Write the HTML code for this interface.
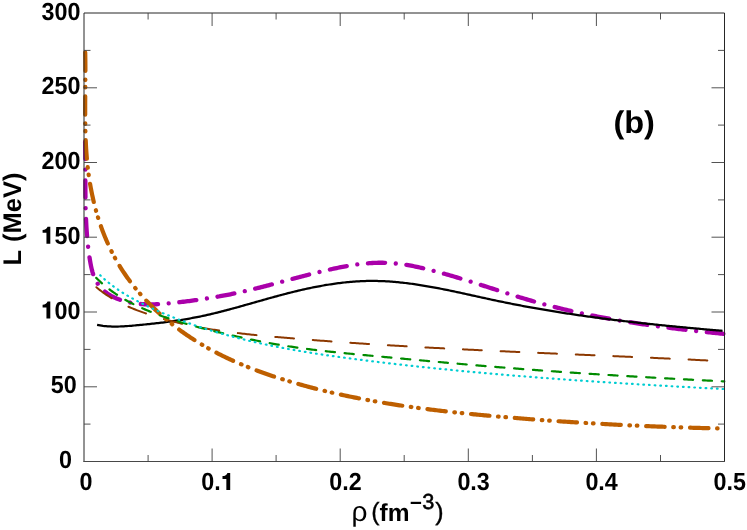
<!DOCTYPE html>
<html><head><meta charset="utf-8"><title>chart</title>
<style>
html,body{margin:0;padding:0;background:#fff;}
body{width:747px;height:530px;overflow:hidden;}
svg{display:block;position:absolute;left:0;top:0;will-change:transform;}
text{font-family:"Liberation Sans",sans-serif;font-weight:bold;fill:#000;text-rendering:geometricPrecision;}
</style></head><body>
<svg width="747" height="530" viewBox="0 0 747 530">
<rect width="747" height="530" fill="#fff"/>
<g>
<path d="M85.04,139.01 L85.08,140.50 L85.11,142.00 L85.14,143.49 L85.17,144.99 L85.20,146.48 L85.22,147.98 L85.24,149.48 L85.26,150.97 L85.27,152.47 L85.29,153.97 L85.30,155.47 L85.31,156.97 L85.32,158.46 L85.33,159.96 L85.33,161.46 L85.34,162.96 L85.34,164.46 L85.34,165.96 L85.35,167.46 L85.35,168.96 L85.35,170.46 L85.35,171.96 L85.35,173.46 L85.35,174.96 L85.35,176.46 L85.35,177.96 L85.36,179.46 L85.36,180.96 L85.36,182.46 L85.36,183.96 L85.37,185.46 L85.37,186.96 L85.38,188.46 L85.39,189.96 L85.40,191.46 L85.41,192.96 L85.42,194.46 L85.44,195.96 L85.46,197.46 L85.47,198.96 L85.50,200.46 L85.52,201.96 L85.55,203.45 L85.58,204.95 L85.61,206.45 L85.65,207.95 L85.68,209.45 L85.73,210.94 L85.77,212.44 L85.82,213.94 L85.87,215.43 L85.93,216.93 L85.99,218.42 L86.06,219.92 L86.13,221.41 L86.20,222.91 L86.28,224.40 L86.36,225.89 L86.45,227.39 L86.55,228.88 L86.64,230.37 L86.75,231.86 L86.86,233.35 L86.97,234.84 L87.09,236.33 L87.22,237.82 L87.35,239.31 L87.49,240.80 L87.64,242.29 L87.79,243.77 L87.95,245.26 L88.11,246.74 L88.28,248.23 L88.46,249.71 L88.65,251.20 L88.85,252.68 L89.05,254.17 L89.26,255.66 L89.48,257.15 L89.71,258.65 L89.95,260.14 L90.21,261.65 L90.47,263.15 L90.75,264.65 L91.05,266.15 L91.37,267.64 L91.72,269.13 L92.09,270.60 L92.49,272.06 L92.93,273.50 L93.40,274.93 L93.91,276.33 L94.47,277.71 L95.06,279.06 L95.71,280.38 L96.40,281.67 L97.15,282.93 L97.95,284.15 L98.81,285.34 L99.72,286.48 L100.68,287.59 L101.69,288.65 L102.75,289.68 L103.85,290.67 L104.99,291.62 L106.16,292.54 L107.37,293.41 L108.61,294.25 L109.88,295.04 L111.18,295.80 L112.50,296.52 L113.84,297.20 L115.20,297.84 L116.58,298.45 L117.98,299.02 L119.39,299.55 L120.81,300.05 L122.24,300.52 L123.69,300.96 L125.14,301.37 L126.61,301.74 L128.07,302.09 L129.54,302.41 L131.01,302.70 L132.49,302.96 L133.97,303.20 L135.45,303.42 L136.93,303.61 L138.41,303.78 L139.89,303.92 L141.38,304.04 L142.87,304.15 L144.36,304.23 L145.85,304.29 L147.34,304.33 L148.84,304.36 L150.33,304.37 L151.82,304.36 L153.32,304.34 L154.82,304.30 L156.31,304.24 L157.81,304.18 L159.31,304.10 L160.81,304.01 L162.31,303.91 L163.80,303.80 L165.30,303.68 L166.80,303.55 L168.30,303.41 L169.80,303.26 L171.29,303.11 L172.79,302.95 L174.28,302.79 L175.78,302.63 L177.27,302.46 L178.76,302.29 L180.26,302.11 L181.75,301.93 L183.24,301.75 L184.72,301.57 L186.21,301.39 L187.70,301.20 L189.18,301.01 L190.67,300.81 L192.15,300.62 L193.64,300.42 L195.12,300.21 L196.60,300.01 L198.08,299.80 L199.56,299.58 L201.04,299.37 L202.51,299.15 L203.99,298.93 L205.47,298.70 L206.94,298.47 L208.42,298.24 L209.89,298.00 L211.37,297.76 L212.84,297.51 L214.31,297.27 L215.78,297.01 L217.26,296.76 L218.73,296.50 L220.20,296.24 L221.67,295.97 L223.13,295.69 L224.60,295.42 L226.07,295.14 L227.54,294.85 L229.01,294.56 L230.47,294.27 L231.94,293.97 L233.41,293.67 L234.87,293.36 L236.34,293.05 L237.80,292.73 L239.27,292.41 L240.73,292.09 L242.19,291.76 L243.66,291.43 L245.12,291.09 L246.58,290.75 L248.05,290.41 L249.51,290.06 L250.97,289.71 L252.43,289.36 L253.89,289.00 L255.35,288.64 L256.81,288.28 L258.27,287.91 L259.72,287.55 L261.18,287.18 L262.64,286.80 L264.09,286.43 L265.55,286.06 L267.00,285.68 L268.46,285.30 L269.91,284.92 L271.36,284.54 L272.81,284.16 L274.26,283.77 L275.71,283.39 L277.16,283.00 L278.61,282.62 L280.06,282.23 L281.50,281.84 L282.95,281.46 L284.39,281.07 L285.84,280.68 L287.28,280.30 L288.73,279.91 L290.17,279.52 L291.61,279.14 L293.05,278.75 L294.49,278.37 L295.93,277.98 L297.38,277.60 L298.82,277.22 L300.26,276.84 L301.70,276.46 L303.14,276.08 L304.59,275.71 L306.03,275.33 L307.47,274.96 L308.92,274.59 L310.37,274.22 L311.81,273.85 L313.26,273.49 L314.71,273.13 L316.16,272.77 L317.61,272.41 L319.06,272.05 L320.52,271.70 L321.97,271.35 L323.43,271.01 L324.89,270.67 L326.35,270.33 L327.82,269.99 L329.28,269.66 L330.75,269.33 L332.22,269.00 L333.69,268.68 L335.16,268.37 L336.64,268.06 L338.12,267.75 L339.59,267.45 L341.07,267.16 L342.55,266.87 L344.04,266.59 L345.52,266.32 L347.01,266.05 L348.49,265.79 L349.98,265.54 L351.47,265.30 L352.96,265.07 L354.45,264.85 L355.94,264.63 L357.43,264.43 L358.92,264.23 L360.41,264.05 L361.90,263.87 L363.40,263.71 L364.89,263.56 L366.38,263.42 L367.88,263.29 L369.37,263.18 L370.87,263.08 L372.36,262.99 L373.85,262.91 L375.35,262.85 L376.84,262.80 L378.33,262.76 L379.82,262.74 L381.32,262.74 L382.81,262.75 L384.30,262.78 L385.79,262.82 L387.27,262.88 L388.76,262.95 L390.25,263.04 L391.74,263.14 L393.22,263.26 L394.71,263.40 L396.19,263.54 L397.67,263.70 L399.15,263.88 L400.63,264.07 L402.11,264.26 L403.59,264.48 L405.07,264.70 L406.54,264.93 L408.02,265.18 L409.49,265.43 L410.97,265.70 L412.44,265.98 L413.91,266.26 L415.38,266.56 L416.85,266.86 L418.32,267.17 L419.78,267.49 L421.25,267.82 L422.71,268.15 L424.17,268.49 L425.63,268.84 L427.09,269.19 L428.55,269.55 L430.01,269.92 L431.47,270.29 L432.92,270.66 L434.38,271.04 L435.83,271.42 L437.28,271.81 L438.73,272.20 L440.18,272.59 L441.62,272.99 L443.07,273.39 L444.51,273.80 L445.96,274.20 L447.40,274.61 L448.84,275.03 L450.28,275.45 L451.72,275.87 L453.16,276.29 L454.60,276.72 L456.04,277.14 L457.47,277.58 L458.91,278.01 L460.34,278.45 L461.77,278.88 L463.21,279.32 L464.64,279.76 L466.07,280.21 L467.50,280.65 L468.93,281.10 L470.36,281.55 L471.79,282.00 L473.22,282.45 L474.65,282.91 L476.08,283.36 L477.51,283.81 L478.93,284.27 L480.36,284.73 L481.79,285.18 L483.21,285.64 L484.64,286.10 L486.07,286.56 L487.49,287.02 L488.92,287.48 L490.34,287.94 L491.77,288.40 L493.19,288.86 L494.62,289.32 L496.05,289.78 L497.47,290.24 L498.90,290.69 L500.32,291.15 L501.75,291.61 L503.18,292.06 L504.60,292.52 L506.03,292.97 L507.46,293.42 L508.88,293.88 L510.31,294.33 L511.74,294.77 L513.17,295.22 L514.60,295.67 L516.03,296.11 L517.46,296.55 L518.89,296.99 L520.32,297.43 L521.75,297.86 L523.18,298.30 L524.62,298.73 L526.05,299.16 L527.48,299.58 L528.92,300.00 L530.36,300.42 L531.79,300.84 L533.23,301.26 L534.67,301.67 L536.11,302.07 L537.55,302.48 L538.99,302.88 L540.44,303.28 L541.88,303.67 L543.32,304.06 L544.77,304.45 L546.22,304.84 L547.66,305.22 L549.11,305.60 L550.56,305.97 L552.01,306.35 L553.46,306.72 L554.91,307.08 L556.36,307.45 L557.82,307.81 L559.27,308.17 L560.73,308.52 L562.18,308.87 L563.64,309.22 L565.09,309.57 L566.55,309.91 L568.01,310.25 L569.47,310.59 L570.93,310.92 L572.39,311.26 L573.85,311.59 L575.31,311.91 L576.78,312.24 L578.24,312.56 L579.70,312.87 L581.17,313.19 L582.63,313.50 L584.10,313.81 L585.57,314.12 L587.03,314.43 L588.50,314.73 L589.97,315.03 L591.44,315.33 L592.91,315.62 L594.38,315.91 L595.85,316.20 L597.32,316.49 L598.79,316.77 L600.27,317.06 L601.74,317.34 L603.21,317.61 L604.69,317.89 L606.16,318.16 L607.64,318.43 L609.11,318.70 L610.59,318.97 L612.06,319.23 L613.54,319.49 L615.02,319.75 L616.50,320.01 L617.97,320.26 L619.45,320.51 L620.93,320.76 L622.41,321.01 L623.89,321.26 L625.37,321.50 L626.85,321.74 L628.33,321.98 L629.81,322.22 L631.30,322.45 L632.78,322.69 L634.26,322.92 L635.74,323.15 L637.22,323.37 L638.71,323.60 L640.19,323.82 L641.67,324.04 L643.16,324.26 L644.64,324.48 L646.13,324.70 L647.61,324.91 L649.10,325.12 L650.58,325.33 L652.07,325.54 L653.55,325.75 L655.04,325.95 L656.52,326.15 L658.01,326.36 L659.50,326.56 L660.98,326.75 L662.47,326.95 L663.95,327.14 L665.44,327.34 L666.93,327.53 L668.41,327.72 L669.90,327.91 L671.39,328.09 L672.88,328.28 L674.36,328.46 L675.85,328.64 L677.34,328.83 L678.82,329.00 L680.31,329.18 L681.80,329.36 L683.29,329.53 L684.77,329.71 L686.26,329.88 L687.75,330.05 L689.23,330.22 L690.72,330.39 L692.21,330.55 L693.70,330.72 L695.18,330.88 L696.67,331.05 L698.16,331.21 L699.64,331.37 L701.13,331.53 L702.62,331.69 L704.10,331.84 L705.59,332.00 L707.07,332.15 L708.56,332.31 L710.05,332.46 L711.53,332.61 L713.02,332.76 L714.50,332.91 L715.99,333.06 L717.47,333.21 L718.95,333.35 L720.44,333.50 L721.92,333.65 L723.41,333.79" fill="none" stroke="#aa00aa" stroke-width="4.3" stroke-linecap="round" stroke-linejoin="round" stroke-dasharray="17.2 10.68 0.01 10.68" stroke-dashoffset="-2.8"/>
<path d="M97.10,324.86 L98.59,325.15 L100.08,325.41 L101.57,325.64 L103.06,325.85 L104.55,326.02 L106.04,326.17 L107.53,326.29 L109.01,326.39 L110.50,326.47 L111.99,326.52 L113.47,326.55 L114.96,326.57 L116.44,326.56 L117.92,326.54 L119.41,326.50 L120.89,326.45 L122.38,326.38 L123.86,326.30 L125.35,326.21 L126.83,326.11 L128.32,326.00 L129.81,325.89 L131.30,325.76 L132.78,325.63 L134.27,325.50 L135.76,325.36 L137.25,325.22 L138.75,325.08 L140.24,324.94 L141.73,324.79 L143.23,324.65 L144.73,324.50 L146.22,324.35 L147.72,324.19 L149.22,324.04 L150.71,323.88 L152.21,323.72 L153.71,323.55 L155.21,323.39 L156.71,323.22 L158.21,323.04 L159.71,322.87 L161.21,322.69 L162.70,322.51 L164.20,322.32 L165.70,322.13 L167.20,321.93 L168.69,321.74 L170.19,321.54 L171.69,321.33 L173.18,321.12 L174.68,320.91 L176.17,320.69 L177.66,320.47 L179.15,320.24 L180.64,320.01 L182.13,319.77 L183.62,319.53 L185.11,319.28 L186.59,319.03 L188.07,318.78 L189.56,318.52 L191.04,318.25 L192.52,317.98 L193.99,317.70 L195.47,317.42 L196.94,317.13 L198.41,316.83 L199.88,316.53 L201.35,316.23 L202.81,315.92 L204.28,315.60 L205.74,315.28 L207.20,314.95 L208.66,314.62 L210.11,314.28 L211.57,313.94 L213.02,313.60 L214.47,313.25 L215.92,312.90 L217.37,312.54 L218.82,312.18 L220.27,311.81 L221.72,311.45 L223.16,311.07 L224.61,310.70 L226.05,310.32 L227.49,309.94 L228.93,309.56 L230.37,309.17 L231.81,308.78 L233.25,308.39 L234.69,308.00 L236.13,307.61 L237.57,307.21 L239.00,306.81 L240.44,306.41 L241.88,306.01 L243.31,305.60 L244.75,305.20 L246.19,304.79 L247.62,304.39 L249.06,303.98 L250.49,303.57 L251.93,303.16 L253.36,302.76 L254.80,302.35 L256.24,301.94 L257.67,301.53 L259.11,301.12 L260.55,300.71 L261.99,300.30 L263.42,299.90 L264.86,299.49 L266.30,299.08 L267.74,298.68 L269.18,298.28 L270.63,297.88 L272.07,297.48 L273.51,297.08 L274.96,296.68 L276.40,296.29 L277.85,295.89 L279.30,295.50 L280.74,295.11 L282.19,294.73 L283.65,294.35 L285.10,293.97 L286.55,293.59 L288.01,293.21 L289.47,292.84 L290.92,292.48 L292.38,292.11 L293.85,291.75 L295.31,291.39 L296.78,291.04 L298.24,290.69 L299.71,290.35 L301.18,290.01 L302.65,289.67 L304.12,289.34 L305.60,289.01 L307.07,288.69 L308.55,288.37 L310.03,288.06 L311.51,287.75 L312.99,287.45 L314.47,287.16 L315.95,286.86 L317.43,286.58 L318.92,286.30 L320.40,286.02 L321.89,285.75 L323.38,285.49 L324.86,285.23 L326.35,284.98 L327.84,284.74 L329.33,284.50 L330.82,284.27 L332.31,284.05 L333.80,283.83 L335.30,283.62 L336.79,283.41 L338.28,283.22 L339.78,283.03 L341.27,282.85 L342.76,282.67 L344.26,282.50 L345.75,282.34 L347.25,282.19 L348.74,282.05 L350.23,281.91 L351.73,281.79 L353.22,281.67 L354.72,281.56 L356.21,281.45 L357.71,281.36 L359.20,281.28 L360.69,281.20 L362.19,281.13 L363.68,281.07 L365.17,281.03 L366.67,280.99 L368.16,280.96 L369.65,280.94 L371.14,280.93 L372.63,280.92 L374.12,280.93 L375.61,280.95 L377.10,280.97 L378.59,281.01 L380.07,281.05 L381.56,281.11 L383.05,281.17 L384.54,281.24 L386.02,281.31 L387.51,281.40 L388.99,281.49 L390.48,281.59 L391.96,281.70 L393.45,281.82 L394.93,281.94 L396.41,282.07 L397.90,282.21 L399.38,282.36 L400.86,282.51 L402.34,282.67 L403.82,282.83 L405.30,283.00 L406.78,283.18 L408.26,283.37 L409.74,283.56 L411.22,283.75 L412.70,283.96 L414.18,284.16 L415.66,284.38 L417.14,284.60 L418.62,284.82 L420.09,285.05 L421.57,285.28 L423.05,285.52 L424.53,285.77 L426.00,286.02 L427.48,286.27 L428.96,286.53 L430.43,286.79 L431.91,287.05 L433.38,287.32 L434.86,287.60 L436.33,287.87 L437.81,288.15 L439.28,288.44 L440.76,288.73 L442.23,289.02 L443.71,289.31 L445.18,289.61 L446.65,289.90 L448.13,290.21 L449.60,290.51 L451.08,290.82 L452.55,291.13 L454.02,291.44 L455.49,291.75 L456.97,292.06 L458.44,292.38 L459.91,292.70 L461.39,293.02 L462.86,293.34 L464.33,293.66 L465.80,293.98 L467.28,294.30 L468.75,294.63 L470.22,294.95 L471.69,295.28 L473.17,295.60 L474.64,295.93 L476.11,296.25 L477.58,296.58 L479.06,296.90 L480.53,297.23 L482.00,297.55 L483.47,297.88 L484.94,298.20 L486.42,298.52 L487.89,298.84 L489.36,299.16 L490.83,299.48 L492.31,299.80 L493.78,300.12 L495.25,300.43 L496.73,300.74 L498.20,301.05 L499.67,301.36 L501.14,301.67 L502.62,301.97 L504.09,302.27 L505.56,302.57 L507.04,302.87 L508.51,303.17 L509.99,303.46 L511.46,303.75 L512.93,304.04 L514.41,304.33 L515.88,304.62 L517.36,304.90 L518.83,305.19 L520.31,305.47 L521.78,305.75 L523.26,306.02 L524.73,306.30 L526.21,306.57 L527.68,306.84 L529.16,307.11 L530.63,307.38 L532.11,307.65 L533.58,307.91 L535.06,308.17 L536.54,308.43 L538.01,308.69 L539.49,308.95 L540.96,309.20 L542.44,309.46 L543.92,309.71 L545.39,309.96 L546.87,310.21 L548.35,310.46 L549.83,310.70 L551.30,310.94 L552.78,311.19 L554.26,311.43 L555.74,311.67 L557.21,311.90 L558.69,312.14 L560.17,312.37 L561.65,312.60 L563.13,312.83 L564.61,313.06 L566.09,313.29 L567.57,313.52 L569.04,313.74 L570.52,313.96 L572.00,314.19 L573.48,314.41 L574.96,314.62 L576.44,314.84 L577.92,315.06 L579.41,315.27 L580.89,315.48 L582.37,315.69 L583.85,315.90 L585.33,316.11 L586.81,316.32 L588.29,316.53 L589.77,316.73 L591.26,316.93 L592.74,317.13 L594.22,317.33 L595.70,317.53 L597.19,317.73 L598.67,317.93 L600.15,318.12 L601.64,318.32 L603.12,318.51 L604.60,318.70 L606.09,318.89 L607.57,319.08 L609.05,319.27 L610.54,319.45 L612.02,319.64 L613.51,319.82 L614.99,320.01 L616.48,320.19 L617.97,320.37 L619.45,320.55 L620.94,320.73 L622.42,320.90 L623.91,321.08 L625.40,321.25 L626.88,321.43 L628.37,321.60 L629.86,321.77 L631.34,321.94 L632.83,322.11 L634.32,322.28 L635.81,322.45 L637.30,322.62 L638.79,322.78 L640.27,322.95 L641.76,323.11 L643.25,323.27 L644.74,323.43 L646.23,323.60 L647.72,323.76 L649.21,323.91 L650.70,324.07 L652.19,324.23 L653.68,324.39 L655.18,324.54 L656.67,324.70 L658.16,324.85 L659.65,325.00 L661.14,325.16 L662.64,325.31 L664.13,325.46 L665.62,325.61 L667.11,325.76 L668.61,325.91 L670.10,326.05 L671.60,326.20 L673.09,326.35 L674.58,326.49 L676.08,326.64 L677.57,326.78 L679.07,326.92 L680.57,327.07 L682.06,327.21 L683.56,327.35 L685.05,327.49 L686.55,327.63 L688.05,327.77 L689.54,327.91 L691.04,328.05 L692.54,328.19 L694.04,328.32 L695.54,328.46 L697.03,328.60 L698.53,328.73 L700.03,328.87 L701.53,329.00 L703.03,329.14 L704.53,329.27 L706.03,329.40 L707.53,329.53 L709.03,329.67 L710.53,329.80 L712.04,329.93 L713.54,330.06 L715.04,330.19 L716.54,330.32 L718.05,330.45 L719.55,330.58 L721.05,330.71 L722.56,330.84" fill="none" stroke="#000000" stroke-width="2.25" stroke-linecap="butt" stroke-linejoin="round"/>
<path d="M96.43,287.24 L97.59,288.22 L98.76,289.19 L99.94,290.13 L101.14,291.05 L102.34,291.96 L103.56,292.85 L104.78,293.71 L106.02,294.57 L107.27,295.40 L108.52,296.22 L109.79,297.02 L111.06,297.80 L112.35,298.57 L113.64,299.32 L114.94,300.06 L116.24,300.78 L117.56,301.49 L118.88,302.19 L120.21,302.87 L121.55,303.54 L122.89,304.19 L124.24,304.83 L125.60,305.46 L126.96,306.08 L128.33,306.69 L129.70,307.28 L131.08,307.86 L132.46,308.44 L133.84,309.00 L135.23,309.55 L136.63,310.10 L138.03,310.63 L139.43,311.15 L140.83,311.67 L142.24,312.18 L143.65,312.68 L145.06,313.17 L146.47,313.66 L147.89,314.14 L149.30,314.61 L150.72,315.08 L152.14,315.54 L153.57,315.99 L154.99,316.43 L156.42,316.87 L157.84,317.31 L159.27,317.73 L160.70,318.15 L162.14,318.57 L163.57,318.97 L165.01,319.38 L166.44,319.77 L167.88,320.16 L169.32,320.54 L170.76,320.92 L172.21,321.29 L173.65,321.66 L175.10,322.02 L176.55,322.37 L178.00,322.72 L179.45,323.07 L180.90,323.41 L182.35,323.74 L183.81,324.07 L185.26,324.39 L186.72,324.71 L188.18,325.02 L189.64,325.33 L191.10,325.63 L192.56,325.93 L194.03,326.22 L195.49,326.51 L196.96,326.79 L198.42,327.07 L199.89,327.35 L201.36,327.62 L202.83,327.88 L204.30,328.14 L205.77,328.40 L207.25,328.65 L208.72,328.90 L210.20,329.15 L211.67,329.39 L213.15,329.63 L214.63,329.86 L216.11,330.09 L217.59,330.31 L219.07,330.54 L220.55,330.75 L222.03,330.97 L223.51,331.18 L225.00,331.39 L226.48,331.59 L227.97,331.80 L229.45,331.99 L230.94,332.19 L232.43,332.38 L233.91,332.57 L235.40,332.76 L236.89,332.94 L238.38,333.12 L239.87,333.30 L241.36,333.48 L242.85,333.65 L244.34,333.82 L245.84,333.99 L247.33,334.15 L248.82,334.32 L250.32,334.48 L251.81,334.64 L253.30,334.79 L254.80,334.95 L256.29,335.10 L257.79,335.25 L259.29,335.40 L260.78,335.55 L262.28,335.70 L263.77,335.84 L265.27,335.98 L266.77,336.12 L268.27,336.26 L269.76,336.40 L271.26,336.54 L272.76,336.68 L274.26,336.81 L275.75,336.94 L277.25,337.08 L278.75,337.21 L280.25,337.34 L281.74,337.47 L283.24,337.60 L284.74,337.73 L286.24,337.86 L287.73,337.98 L289.23,338.11 L290.73,338.24 L292.23,338.36 L293.72,338.49 L295.22,338.61 L296.72,338.73 L298.22,338.86 L299.71,338.98 L301.21,339.10 L302.71,339.22 L304.20,339.34 L305.70,339.46 L307.20,339.58 L308.70,339.70 L310.19,339.82 L311.69,339.94 L313.19,340.05 L314.68,340.17 L316.18,340.29 L317.68,340.40 L319.17,340.52 L320.67,340.63 L322.17,340.74 L323.66,340.86 L325.16,340.97 L326.66,341.08 L328.15,341.19 L329.65,341.30 L331.14,341.41 L332.64,341.52 L334.14,341.63 L335.63,341.74 L337.13,341.85 L338.62,341.96 L340.12,342.06 L341.62,342.17 L343.11,342.28 L344.61,342.38 L346.10,342.49 L347.60,342.59 L349.10,342.69 L350.59,342.80 L352.09,342.90 L353.58,343.00 L355.08,343.10 L356.57,343.21 L358.07,343.31 L359.57,343.41 L361.06,343.51 L362.56,343.61 L364.05,343.71 L365.55,343.80 L367.04,343.90 L368.54,344.00 L370.03,344.10 L371.53,344.19 L373.02,344.29 L374.52,344.39 L376.02,344.48 L377.51,344.58 L379.01,344.67 L380.50,344.76 L382.00,344.86 L383.49,344.95 L384.99,345.04 L386.48,345.14 L387.98,345.23 L389.47,345.32 L390.97,345.41 L392.46,345.50 L393.96,345.59 L395.45,345.68 L396.95,345.77 L398.44,345.86 L399.94,345.95 L401.43,346.04 L402.93,346.12 L404.42,346.21 L405.92,346.30 L407.41,346.38 L408.91,346.47 L410.40,346.56 L411.89,346.64 L413.39,346.73 L414.88,346.81 L416.38,346.90 L417.87,346.98 L419.37,347.06 L420.86,347.15 L422.36,347.23 L423.85,347.31 L425.35,347.40 L426.84,347.48 L428.34,347.56 L429.83,347.64 L431.33,347.72 L432.82,347.80 L434.31,347.88 L435.81,347.96 L437.30,348.04 L438.80,348.12 L440.29,348.20 L441.79,348.28 L443.28,348.36 L444.78,348.44 L446.27,348.51 L447.77,348.59 L449.26,348.67 L450.76,348.75 L452.25,348.82 L453.74,348.90 L455.24,348.97 L456.73,349.05 L458.23,349.13 L459.72,349.20 L461.22,349.28 L462.71,349.35 L464.21,349.43 L465.70,349.50 L467.19,349.57 L468.69,349.65 L470.18,349.72 L471.68,349.80 L473.17,349.87 L474.67,349.94 L476.16,350.01 L477.66,350.09 L479.15,350.16 L480.65,350.23 L482.14,350.30 L483.63,350.37 L485.13,350.44 L486.62,350.52 L488.12,350.59 L489.61,350.66 L491.11,350.73 L492.60,350.80 L494.10,350.87 L495.59,350.94 L497.09,351.01 L498.58,351.08 L500.08,351.15 L501.57,351.22 L503.07,351.28 L504.56,351.35 L506.05,351.42 L507.55,351.49 L509.04,351.56 L510.54,351.63 L512.03,351.70 L513.53,351.76 L515.02,351.83 L516.52,351.90 L518.01,351.97 L519.51,352.03 L521.00,352.10 L522.50,352.17 L523.99,352.23 L525.49,352.30 L526.98,352.37 L528.48,352.43 L529.97,352.50 L531.47,352.57 L532.96,352.63 L534.46,352.70 L535.95,352.77 L537.45,352.83 L538.94,352.90 L540.44,352.96 L541.93,353.03 L543.43,353.09 L544.92,353.16 L546.42,353.22 L547.91,353.29 L549.41,353.36 L550.91,353.42 L552.40,353.49 L553.90,353.55 L555.39,353.62 L556.89,353.68 L558.38,353.75 L559.88,353.81 L561.37,353.87 L562.87,353.94 L564.36,354.00 L565.86,354.07 L567.36,354.13 L568.85,354.20 L570.35,354.26 L571.84,354.33 L573.34,354.39 L574.83,354.46 L576.33,354.52 L577.83,354.58 L579.32,354.65 L580.82,354.71 L582.31,354.78 L583.81,354.84 L585.31,354.91 L586.80,354.97 L588.30,355.04 L589.80,355.10 L591.29,355.16 L592.79,355.23 L594.28,355.29 L595.78,355.36 L597.28,355.42 L598.77,355.49 L600.27,355.55 L601.77,355.62 L603.26,355.68 L604.76,355.75 L606.26,355.81 L607.75,355.88 L609.25,355.94 L610.75,356.01 L612.24,356.07 L613.74,356.14 L615.24,356.20 L616.73,356.27 L618.23,356.33 L619.73,356.40 L621.23,356.46 L622.72,356.53 L624.22,356.59 L625.72,356.66 L627.22,356.73 L628.71,356.79 L630.21,356.86 L631.71,356.92 L633.21,356.99 L634.70,357.06 L636.20,357.12 L637.70,357.19 L639.20,357.26 L640.69,357.32 L642.19,357.39 L643.69,357.46 L645.19,357.53 L646.69,357.59 L648.18,357.66 L649.68,357.73 L651.18,357.80 L652.68,357.86 L654.18,357.93 L655.68,358.00 L657.17,358.07 L658.67,358.14 L660.17,358.21 L661.67,358.28 L663.17,358.34 L664.67,358.41 L666.17,358.48 L667.66,358.55 L669.16,358.62 L670.66,358.69 L672.16,358.76 L673.66,358.83 L675.16,358.90 L676.66,358.97 L678.16,359.05 L679.66,359.12 L681.16,359.19 L682.66,359.26 L684.16,359.33 L685.66,359.40 L687.16,359.48 L688.66,359.55 L690.16,359.62 L691.66,359.70 L693.16,359.77 L694.66,359.84 L696.16,359.92 L697.66,359.99 L699.16,360.06 L700.66,360.14 L702.16,360.21 L703.66,360.29 L705.16,360.36 L706.66,360.44 L708.16,360.52" fill="none" stroke="#8c3800" stroke-width="2.0" stroke-linecap="round" stroke-linejoin="round" stroke-dasharray="18.8 18.83" stroke-dashoffset="0"/>
<path d="M85.16,50.38 L85.19,51.83 L85.23,53.29 L85.26,54.75 L85.28,56.21 L85.31,57.67 L85.33,59.13 L85.35,60.59 L85.36,62.06 L85.37,63.53 L85.38,65.00 L85.39,66.47 L85.39,67.95 L85.39,69.42 L85.39,70.90 L85.39,72.38 L85.39,73.86 L85.39,75.34 L85.38,76.82 L85.37,78.30 L85.36,79.79 L85.35,81.28 L85.34,82.76 L85.33,84.25 L85.32,85.74 L85.31,87.23 L85.30,88.73 L85.28,90.22 L85.27,91.71 L85.26,93.21 L85.25,94.71 L85.23,96.20 L85.22,97.70 L85.21,99.20 L85.20,100.70 L85.19,102.20 L85.18,103.70 L85.18,105.20 L85.17,106.71 L85.17,108.21 L85.17,109.71 L85.17,111.22 L85.17,112.72 L85.17,114.23 L85.18,115.73 L85.19,117.24 L85.20,118.75 L85.21,120.25 L85.23,121.76 L85.25,123.27 L85.27,124.78 L85.29,126.28 L85.32,127.79 L85.35,129.30 L85.39,130.81 L85.43,132.31 L85.47,133.82 L85.52,135.33 L85.57,136.84 L85.63,138.34 L85.69,139.85 L85.75,141.36 L85.82,142.87 L85.90,144.37 L85.98,145.88 L86.06,147.38 L86.15,148.89 L86.25,150.39 L86.35,151.90 L86.46,153.40 L86.57,154.90 L86.69,156.41 L86.81,157.91 L86.94,159.41 L87.08,160.91 L87.23,162.41 L87.38,163.91 L87.54,165.41 L87.70,166.90 L87.87,168.40 L88.05,169.90 L88.24,171.39 L88.43,172.88 L88.63,174.37 L88.84,175.87 L89.05,177.35 L89.28,178.84 L89.51,180.33 L89.75,181.81 L89.99,183.30 L90.25,184.78 L90.51,186.26 L90.77,187.74 L91.05,189.21 L91.34,190.69 L91.63,192.16 L91.93,193.63 L92.23,195.10 L92.55,196.56 L92.87,198.03 L93.21,199.49 L93.54,200.95 L93.89,202.40 L94.25,203.86 L94.61,205.31 L94.98,206.76 L95.37,208.20 L95.75,209.65 L96.15,211.09 L96.56,212.52 L96.97,213.96 L97.39,215.39 L97.82,216.82 L98.26,218.24 L98.71,219.66 L99.17,221.08 L99.63,222.50 L100.11,223.91 L100.59,225.31 L101.08,226.72 L101.58,228.12 L102.09,229.51 L102.61,230.91 L103.14,232.30 L103.68,233.68 L104.22,235.06 L104.78,236.44 L105.34,237.81 L105.91,239.18 L106.49,240.54 L107.09,241.90 L107.69,243.26 L108.30,244.61 L108.92,245.95 L109.54,247.29 L110.18,248.63 L110.83,249.96 L111.49,251.29 L112.15,252.61 L112.83,253.93 L113.52,255.24 L114.21,256.54 L114.92,257.85 L115.63,259.14 L116.36,260.43 L117.09,261.72 L117.84,263.00 L118.59,264.27 L119.36,265.54 L120.13,266.80 L120.92,268.06 L121.71,269.31 L122.52,270.56 L123.33,271.80 L124.15,273.03 L124.99,274.26 L125.83,275.49 L126.68,276.70 L127.54,277.91 L128.41,279.12 L129.29,280.32 L130.18,281.51 L131.08,282.70 L131.98,283.88 L132.90,285.06 L133.82,286.23 L134.75,287.39 L135.69,288.55 L136.64,289.70 L137.60,290.85 L138.56,291.99 L139.53,293.12 L140.51,294.25 L141.50,295.37 L142.50,296.48 L143.51,297.59 L144.52,298.69 L145.54,299.79 L146.57,300.88 L147.60,301.96 L148.64,303.04 L149.69,304.11 L150.75,305.18 L151.82,306.23 L152.89,307.29 L153.97,308.33 L155.05,309.37 L156.14,310.40 L157.24,311.43 L158.35,312.45 L159.46,313.46 L160.58,314.47 L161.71,315.47 L162.84,316.46 L163.97,317.45 L165.12,318.43 L166.27,319.40 L167.42,320.37 L168.59,321.33 L169.75,322.28 L170.93,323.23 L172.11,324.17 L173.29,325.10 L174.48,326.03 L175.68,326.95 L176.88,327.86 L178.08,328.76 L179.30,329.66 L180.51,330.56 L181.73,331.44 L182.96,332.32 L184.19,333.19 L185.43,334.05 L186.67,334.91 L187.92,335.76 L189.16,336.60 L190.42,337.44 L191.68,338.27 L192.94,339.09 L194.21,339.90 L195.48,340.71 L196.76,341.51 L198.03,342.31 L199.32,343.09 L200.60,343.87 L201.89,344.64 L203.19,345.41 L204.49,346.16 L205.79,346.91 L207.09,347.65 L208.40,348.39 L209.71,349.12 L211.03,349.84 L212.35,350.55 L213.67,351.26 L214.99,351.96 L216.32,352.66 L217.65,353.34 L218.98,354.03 L220.32,354.70 L221.66,355.37 L223.00,356.03 L224.35,356.69 L225.70,357.34 L227.05,357.98 L228.40,358.62 L229.76,359.25 L231.12,359.87 L232.48,360.49 L233.85,361.11 L235.22,361.71 L236.58,362.31 L237.96,362.91 L239.33,363.50 L240.71,364.09 L242.09,364.67 L243.47,365.24 L244.85,365.81 L246.24,366.37 L247.63,366.93 L249.02,367.48 L250.41,368.03 L251.80,368.57 L253.20,369.11 L254.60,369.65 L256.00,370.17 L257.40,370.70 L258.80,371.22 L260.21,371.73 L261.61,372.24 L263.02,372.74 L264.43,373.25 L265.84,373.74 L267.26,374.23 L268.67,374.72 L270.09,375.20 L271.50,375.68 L272.92,376.16 L274.34,376.63 L275.76,377.10 L277.19,377.56 L278.61,378.02 L280.03,378.47 L281.46,378.93 L282.89,379.38 L284.31,379.82 L285.74,380.26 L287.17,380.70 L288.60,381.13 L290.03,381.56 L291.47,381.99 L292.90,382.41 L294.33,382.83 L295.77,383.25 L297.20,383.66 L298.64,384.07 L300.08,384.48 L301.52,384.88 L302.96,385.28 L304.40,385.68 L305.84,386.07 L307.28,386.47 L308.72,386.85 L310.17,387.24 L311.61,387.62 L313.06,387.99 L314.50,388.37 L315.95,388.74 L317.40,389.11 L318.85,389.47 L320.29,389.83 L321.74,390.19 L323.20,390.55 L324.65,390.90 L326.10,391.25 L327.55,391.60 L329.01,391.94 L330.46,392.28 L331.92,392.62 L333.37,392.95 L334.83,393.28 L336.29,393.61 L337.74,393.94 L339.20,394.26 L340.66,394.58 L342.12,394.90 L343.58,395.21 L345.05,395.53 L346.51,395.84 L347.97,396.14 L349.43,396.45 L350.90,396.75 L352.36,397.05 L353.83,397.34 L355.29,397.64 L356.76,397.93 L358.23,398.21 L359.70,398.50 L361.17,398.78 L362.63,399.06 L364.10,399.34 L365.57,399.62 L367.04,399.89 L368.52,400.16 L369.99,400.43 L371.46,400.69 L372.93,400.96 L374.41,401.22 L375.88,401.48 L377.35,401.73 L378.83,401.99 L380.31,402.24 L381.78,402.49 L383.26,402.74 L384.73,402.98 L386.21,403.22 L387.69,403.46 L389.17,403.70 L390.65,403.94 L392.13,404.17 L393.61,404.40 L395.09,404.63 L396.57,404.86 L398.05,405.09 L399.53,405.31 L401.01,405.53 L402.49,405.75 L403.97,405.97 L405.46,406.18 L406.94,406.40 L408.42,406.61 L409.91,406.82 L411.39,407.03 L412.88,407.23 L414.36,407.44 L415.85,407.64 L417.33,407.84 L418.82,408.04 L420.31,408.24 L421.79,408.43 L423.28,408.62 L424.77,408.82 L426.25,409.01 L427.74,409.19 L429.23,409.38 L430.72,409.57 L432.21,409.75 L433.69,409.93 L435.18,410.11 L436.67,410.29 L438.16,410.47 L439.65,410.64 L441.14,410.82 L442.63,410.99 L444.12,411.16 L445.61,411.33 L447.10,411.50 L448.59,411.67 L450.09,411.83 L451.58,412.00 L453.07,412.16 L454.56,412.32 L456.05,412.48 L457.54,412.64 L459.04,412.80 L460.53,412.95 L462.02,413.11 L463.51,413.26 L465.00,413.42 L466.50,413.57 L467.99,413.72 L469.48,413.87 L470.97,414.01 L472.47,414.16 L473.96,414.31 L475.45,414.45 L476.95,414.60 L478.44,414.74 L479.93,414.88 L481.42,415.02 L482.92,415.16 L484.41,415.30 L485.90,415.44 L487.40,415.58 L488.89,415.71 L490.38,415.85 L491.88,415.98 L493.37,416.12 L494.86,416.25 L496.35,416.38 L497.85,416.51 L499.34,416.64 L500.83,416.77 L502.33,416.90 L503.82,417.03 L505.31,417.16 L506.80,417.28 L508.30,417.41 L509.79,417.54 L511.28,417.66 L512.77,417.79 L514.26,417.91 L515.76,418.03 L517.25,418.15 L518.74,418.27 L520.23,418.39 L521.72,418.51 L523.22,418.63 L524.71,418.75 L526.20,418.87 L527.69,418.99 L529.18,419.10 L530.68,419.22 L532.17,419.33 L533.66,419.45 L535.15,419.56 L536.64,419.67 L538.14,419.78 L539.63,419.89 L541.12,420.00 L542.61,420.11 L544.10,420.22 L545.59,420.33 L547.09,420.44 L548.58,420.55 L550.07,420.65 L551.56,420.76 L553.05,420.86 L554.54,420.97 L556.04,421.07 L557.53,421.17 L559.02,421.27 L560.51,421.38 L562.00,421.48 L563.49,421.58 L564.99,421.68 L566.48,421.77 L567.97,421.87 L569.46,421.97 L570.95,422.07 L572.45,422.16 L573.94,422.26 L575.43,422.35 L576.92,422.45 L578.41,422.54 L579.91,422.63 L581.40,422.72 L582.89,422.81 L584.38,422.90 L585.87,422.99 L587.37,423.08 L588.86,423.17 L590.35,423.26 L591.84,423.35 L593.34,423.43 L594.83,423.52 L596.32,423.60 L597.81,423.69 L599.31,423.77 L600.80,423.86 L602.29,423.94 L603.79,424.02 L605.28,424.10 L606.77,424.18 L608.27,424.26 L609.76,424.34 L611.25,424.42 L612.75,424.50 L614.24,424.57 L615.73,424.65 L617.23,424.73 L618.72,424.80 L620.21,424.88 L621.71,424.95 L623.20,425.03 L624.70,425.10 L626.19,425.17 L627.68,425.24 L629.18,425.31 L630.67,425.38 L632.17,425.45 L633.66,425.52 L635.16,425.59 L636.65,425.66 L638.15,425.73 L639.64,425.79 L641.14,425.86 L642.63,425.92 L644.13,425.99 L645.62,426.05 L647.12,426.12 L648.61,426.18 L650.11,426.24 L651.61,426.30 L653.10,426.36 L654.60,426.42 L656.10,426.48 L657.59,426.54 L659.09,426.60 L660.59,426.66 L662.08,426.72 L663.58,426.77 L665.08,426.83 L666.57,426.88 L668.07,426.94 L669.57,426.99 L671.07,427.05 L672.57,427.10 L674.06,427.15 L675.56,427.21 L677.06,427.26 L678.56,427.31 L680.06,427.36 L681.56,427.41 L683.06,427.46 L684.56,427.51 L686.05,427.55 L687.55,427.60 L689.05,427.65 L690.55,427.69 L692.05,427.74 L693.55,427.78 L695.05,427.83 L696.56,427.87 L698.06,427.91 L699.56,427.96 L701.06,428.00 L702.56,428.04 L704.06,428.08 L705.56,428.12 L707.07,428.16 L708.57,428.20 L710.07,428.24 L711.57,428.28 L713.08,428.32 L714.58,428.35 L716.08,428.39 L717.59,428.42" fill="none" stroke="#be5f00" stroke-width="4.2" stroke-linecap="round" stroke-linejoin="round" stroke-dasharray="18.5 8.6 0.6 6.8 0.6 8.79" stroke-dashoffset="-2.0"/>
<path d="M96.26,277.88 L97.34,278.96 L98.43,280.02 L99.52,281.06 L100.63,282.09 L101.75,283.11 L102.88,284.10 L104.02,285.08 L105.17,286.05 L106.33,287.00 L107.50,287.93 L108.68,288.85 L109.87,289.75 L111.07,290.64 L112.28,291.51 L113.49,292.37 L114.72,293.22 L115.95,294.05 L117.19,294.87 L118.44,295.67 L119.70,296.47 L120.97,297.25 L122.24,298.01 L123.52,298.77 L124.81,299.51 L126.10,300.24 L127.40,300.96 L128.71,301.67 L130.02,302.37 L131.34,303.05 L132.67,303.73 L134.00,304.40 L135.34,305.05 L136.68,305.70 L138.03,306.33 L139.38,306.96 L140.74,307.58 L142.10,308.19 L143.47,308.79 L144.84,309.38 L146.22,309.97 L147.60,310.54 L148.98,311.11 L150.37,311.67 L151.76,312.23 L153.15,312.77 L154.54,313.31 L155.94,313.85 L157.34,314.37 L158.75,314.89 L160.15,315.41 L161.56,315.92 L162.98,316.42 L164.39,316.92 L165.81,317.41 L167.23,317.89 L168.65,318.37 L170.07,318.84 L171.50,319.31 L172.93,319.77 L174.36,320.23 L175.79,320.68 L177.22,321.13 L178.66,321.57 L180.10,322.01 L181.54,322.45 L182.98,322.87 L184.42,323.30 L185.87,323.72 L187.31,324.13 L188.76,324.55 L190.21,324.95 L191.66,325.36 L193.11,325.76 L194.56,326.15 L196.01,326.55 L197.46,326.94 L198.92,327.32 L200.37,327.70 L201.83,328.08 L203.29,328.46 L204.74,328.83 L206.20,329.21 L207.66,329.57 L209.12,329.94 L210.58,330.30 L212.04,330.66 L213.50,331.02 L214.96,331.38 L216.41,331.73 L217.87,332.09 L219.33,332.44 L220.79,332.78 L222.25,333.13 L223.71,333.48 L225.17,333.82 L226.63,334.16 L228.09,334.50 L229.55,334.83 L231.01,335.17 L232.48,335.50 L233.94,335.83 L235.40,336.16 L236.86,336.48 L238.32,336.80 L239.78,337.12 L241.24,337.44 L242.71,337.76 L244.17,338.07 L245.63,338.38 L247.09,338.69 L248.56,339.00 L250.02,339.30 L251.48,339.60 L252.95,339.90 L254.41,340.20 L255.88,340.49 L257.34,340.78 L258.81,341.07 L260.27,341.36 L261.74,341.64 L263.21,341.92 L264.67,342.20 L266.14,342.47 L267.61,342.75 L269.08,343.01 L270.55,343.28 L272.01,343.55 L273.48,343.81 L274.96,344.07 L276.43,344.32 L277.90,344.57 L279.37,344.82 L280.84,345.07 L282.32,345.31 L283.79,345.56 L285.26,345.79 L286.74,346.03 L288.22,346.26 L289.69,346.49 L291.17,346.71 L292.65,346.94 L294.12,347.16 L295.60,347.37 L297.08,347.59 L298.56,347.80 L300.04,348.00 L301.53,348.21 L303.01,348.41 L304.49,348.61 L305.97,348.81 L307.46,349.00 L308.94,349.19 L310.43,349.38 L311.91,349.57 L313.40,349.75 L314.88,349.93 L316.37,350.11 L317.86,350.29 L319.35,350.47 L320.83,350.64 L322.32,350.81 L323.81,350.98 L325.30,351.15 L326.79,351.32 L328.28,351.48 L329.77,351.64 L331.26,351.80 L332.75,351.96 L334.24,352.12 L335.74,352.28 L337.23,352.43 L338.72,352.59 L340.21,352.74 L341.70,352.89 L343.20,353.04 L344.69,353.19 L346.18,353.34 L347.68,353.49 L349.17,353.63 L350.66,353.78 L352.16,353.92 L353.65,354.07 L355.14,354.21 L356.64,354.35 L358.13,354.50 L359.63,354.64 L361.12,354.78 L362.61,354.92 L364.11,355.06 L365.60,355.20 L367.10,355.34 L368.59,355.48 L370.08,355.62 L371.58,355.76 L373.07,355.91 L374.56,356.05 L376.06,356.19 L377.55,356.33 L379.05,356.47 L380.54,356.61 L382.03,356.75 L383.53,356.89 L385.02,357.03 L386.51,357.17 L388.01,357.31 L389.50,357.45 L390.99,357.59 L392.49,357.73 L393.98,357.87 L395.47,358.01 L396.96,358.15 L398.46,358.29 L399.95,358.43 L401.44,358.56 L402.94,358.70 L404.43,358.84 L405.92,358.98 L407.41,359.12 L408.91,359.26 L410.40,359.40 L411.89,359.54 L413.39,359.67 L414.88,359.81 L416.37,359.95 L417.86,360.09 L419.36,360.22 L420.85,360.36 L422.34,360.50 L423.83,360.64 L425.33,360.77 L426.82,360.91 L428.31,361.05 L429.80,361.18 L431.30,361.32 L432.79,361.45 L434.28,361.59 L435.77,361.72 L437.27,361.86 L438.76,361.99 L440.25,362.13 L441.74,362.26 L443.24,362.40 L444.73,362.53 L446.22,362.67 L447.71,362.80 L449.20,362.93 L450.70,363.06 L452.19,363.20 L453.68,363.33 L455.17,363.46 L456.67,363.59 L458.16,363.73 L459.65,363.86 L461.14,363.99 L462.64,364.12 L464.13,364.25 L465.62,364.38 L467.11,364.51 L468.61,364.64 L470.10,364.77 L471.59,364.90 L473.08,365.02 L474.58,365.15 L476.07,365.28 L477.56,365.41 L479.06,365.54 L480.55,365.66 L482.04,365.79 L483.53,365.91 L485.03,366.04 L486.52,366.17 L488.01,366.29 L489.50,366.42 L491.00,366.54 L492.49,366.66 L493.98,366.79 L495.48,366.91 L496.97,367.03 L498.46,367.15 L499.96,367.28 L501.45,367.40 L502.94,367.52 L504.44,367.64 L505.93,367.76 L507.42,367.88 L508.92,368.00 L510.41,368.12 L511.90,368.24 L513.40,368.35 L514.89,368.47 L516.38,368.59 L517.88,368.70 L519.37,368.82 L520.87,368.94 L522.36,369.05 L523.85,369.17 L525.35,369.28 L526.84,369.39 L528.34,369.51 L529.83,369.62 L531.32,369.73 L532.82,369.84 L534.31,369.96 L535.81,370.07 L537.30,370.18 L538.80,370.29 L540.29,370.40 L541.78,370.51 L543.28,370.62 L544.77,370.72 L546.27,370.83 L547.76,370.94 L549.26,371.05 L550.75,371.15 L552.25,371.26 L553.74,371.37 L555.24,371.47 L556.73,371.58 L558.23,371.68 L559.72,371.79 L561.22,371.89 L562.71,371.99 L564.21,372.10 L565.70,372.20 L567.20,372.30 L568.69,372.40 L570.19,372.50 L571.69,372.61 L573.18,372.71 L574.68,372.81 L576.17,372.91 L577.67,373.01 L579.16,373.11 L580.66,373.21 L582.15,373.30 L583.65,373.40 L585.15,373.50 L586.64,373.60 L588.14,373.69 L589.63,373.79 L591.13,373.89 L592.62,373.98 L594.12,374.08 L595.62,374.18 L597.11,374.27 L598.61,374.37 L600.10,374.46 L601.60,374.55 L603.10,374.65 L604.59,374.74 L606.09,374.83 L607.58,374.93 L609.08,375.02 L610.58,375.11 L612.07,375.20 L613.57,375.30 L615.06,375.39 L616.56,375.48 L618.06,375.57 L619.55,375.66 L621.05,375.75 L622.55,375.84 L624.04,375.93 L625.54,376.02 L627.03,376.11 L628.53,376.20 L630.03,376.28 L631.52,376.37 L633.02,376.46 L634.52,376.55 L636.01,376.63 L637.51,376.72 L639.01,376.81 L640.50,376.90 L642.00,376.98 L643.49,377.07 L644.99,377.15 L646.49,377.24 L647.98,377.32 L649.48,377.41 L650.98,377.49 L652.47,377.58 L653.97,377.66 L655.47,377.75 L656.96,377.83 L658.46,377.91 L659.96,378.00 L661.45,378.08 L662.95,378.16 L664.44,378.25 L665.94,378.33 L667.44,378.41 L668.93,378.49 L670.43,378.57 L671.93,378.66 L673.42,378.74 L674.92,378.82 L676.42,378.90 L677.91,378.98 L679.41,379.06 L680.90,379.14 L682.40,379.22 L683.90,379.30 L685.39,379.38 L686.89,379.46 L688.39,379.54 L689.88,379.62 L691.38,379.70 L692.88,379.78 L694.37,379.86 L695.87,379.94 L697.36,380.02 L698.86,380.09 L700.36,380.17 L701.85,380.25 L703.35,380.33 L704.85,380.41 L706.34,380.48 L707.84,380.56 L709.33,380.64 L710.83,380.72 L712.33,380.79 L713.82,380.87 L715.32,380.95 L716.81,381.02 L718.31,381.10 L719.81,381.18 L721.30,381.25 L722.80,381.33 L724.29,381.40" fill="none" stroke="#008b00" stroke-width="2.2" stroke-linecap="round" stroke-linejoin="round" stroke-dasharray="9.2 9.71" stroke-dashoffset="1.3"/>
<path d="M96.99,271.85 L98.02,272.95 L99.07,274.04 L100.13,275.11 L101.20,276.17 L102.29,277.20 L103.39,278.22 L104.50,279.22 L105.62,280.21 L106.76,281.18 L107.90,282.13 L109.06,283.07 L110.22,284.00 L111.40,284.91 L112.59,285.80 L113.78,286.69 L114.99,287.55 L116.20,288.41 L117.42,289.26 L118.65,290.09 L119.89,290.91 L121.14,291.72 L122.40,292.52 L123.66,293.30 L124.93,294.08 L126.21,294.85 L127.49,295.61 L128.78,296.36 L130.07,297.10 L131.37,297.83 L132.68,298.55 L133.99,299.27 L135.30,299.98 L136.62,300.68 L137.95,301.38 L139.28,302.07 L140.61,302.75 L141.94,303.43 L143.28,304.10 L144.63,304.77 L145.97,305.43 L147.32,306.08 L148.67,306.73 L150.03,307.37 L151.39,308.01 L152.75,308.64 L154.11,309.27 L155.48,309.89 L156.85,310.51 L158.23,311.12 L159.60,311.72 L160.98,312.32 L162.36,312.92 L163.74,313.51 L165.13,314.09 L166.52,314.67 L167.91,315.25 L169.30,315.81 L170.70,316.38 L172.09,316.94 L173.49,317.49 L174.89,318.04 L176.29,318.59 L177.69,319.13 L179.10,319.66 L180.51,320.19 L181.91,320.72 L183.32,321.24 L184.73,321.76 L186.15,322.27 L187.56,322.78 L188.97,323.28 L190.39,323.78 L191.80,324.27 L193.22,324.76 L194.64,325.25 L196.06,325.73 L197.48,326.21 L198.90,326.68 L200.32,327.15 L201.75,327.62 L203.17,328.08 L204.60,328.53 L206.02,328.99 L207.45,329.44 L208.88,329.88 L210.31,330.32 L211.74,330.76 L213.17,331.19 L214.61,331.62 L216.04,332.04 L217.48,332.47 L218.91,332.88 L220.35,333.30 L221.79,333.71 L223.23,334.11 L224.67,334.52 L226.11,334.91 L227.55,335.31 L228.99,335.70 L230.43,336.09 L231.88,336.47 L233.32,336.85 L234.77,337.23 L236.21,337.61 L237.66,337.98 L239.11,338.34 L240.56,338.71 L242.01,339.07 L243.46,339.43 L244.91,339.78 L246.37,340.13 L247.82,340.48 L249.27,340.82 L250.73,341.16 L252.18,341.50 L253.64,341.84 L255.10,342.17 L256.55,342.50 L258.01,342.82 L259.47,343.15 L260.93,343.47 L262.39,343.78 L263.85,344.10 L265.32,344.41 L266.78,344.72 L268.24,345.02 L269.71,345.33 L271.17,345.63 L272.64,345.92 L274.10,346.22 L275.57,346.51 L277.04,346.80 L278.50,347.09 L279.97,347.37 L281.44,347.65 L282.91,347.93 L284.38,348.21 L285.85,348.49 L287.32,348.76 L288.80,349.03 L290.27,349.29 L291.74,349.56 L293.21,349.82 L294.69,350.08 L296.16,350.34 L297.64,350.60 L299.11,350.85 L300.59,351.10 L302.06,351.35 L303.54,351.60 L305.02,351.84 L306.50,352.09 L307.97,352.33 L309.45,352.57 L310.93,352.81 L312.41,353.04 L313.89,353.27 L315.37,353.51 L316.85,353.74 L318.33,353.96 L319.81,354.19 L321.29,354.42 L322.78,354.64 L324.26,354.86 L325.74,355.08 L327.22,355.30 L328.71,355.51 L330.19,355.73 L331.67,355.94 L333.16,356.15 L334.64,356.36 L336.13,356.57 L337.61,356.78 L339.10,356.99 L340.58,357.19 L342.07,357.40 L343.55,357.60 L345.04,357.80 L346.53,358.00 L348.01,358.20 L349.50,358.39 L350.99,358.59 L352.47,358.79 L353.96,358.98 L355.45,359.17 L356.93,359.36 L358.42,359.55 L359.91,359.74 L361.40,359.93 L362.89,360.12 L364.37,360.31 L365.86,360.50 L367.35,360.68 L368.84,360.87 L370.33,361.05 L371.81,361.23 L373.30,361.42 L374.79,361.60 L376.28,361.78 L377.77,361.96 L379.26,362.14 L380.75,362.32 L382.24,362.49 L383.72,362.67 L385.21,362.85 L386.70,363.02 L388.19,363.20 L389.68,363.37 L391.17,363.55 L392.66,363.72 L394.15,363.89 L395.64,364.06 L397.13,364.23 L398.62,364.40 L400.11,364.57 L401.60,364.74 L403.08,364.91 L404.57,365.08 L406.06,365.24 L407.55,365.41 L409.04,365.57 L410.53,365.74 L412.02,365.90 L413.51,366.07 L415.00,366.23 L416.49,366.39 L417.98,366.55 L419.47,366.71 L420.97,366.87 L422.46,367.03 L423.95,367.19 L425.44,367.34 L426.93,367.50 L428.42,367.66 L429.91,367.81 L431.40,367.97 L432.89,368.12 L434.38,368.28 L435.87,368.43 L437.36,368.58 L438.85,368.73 L440.34,368.89 L441.84,369.04 L443.33,369.19 L444.82,369.33 L446.31,369.48 L447.80,369.63 L449.29,369.78 L450.78,369.93 L452.28,370.07 L453.77,370.22 L455.26,370.36 L456.75,370.51 L458.24,370.65 L459.73,370.79 L461.22,370.94 L462.72,371.08 L464.21,371.22 L465.70,371.36 L467.19,371.50 L468.68,371.64 L470.18,371.78 L471.67,371.92 L473.16,372.05 L474.65,372.19 L476.15,372.33 L477.64,372.46 L479.13,372.60 L480.62,372.73 L482.11,372.87 L483.61,373.00 L485.10,373.14 L486.59,373.27 L488.08,373.40 L489.58,373.53 L491.07,373.66 L492.56,373.79 L494.06,373.92 L495.55,374.05 L497.04,374.18 L498.53,374.31 L500.03,374.44 L501.52,374.56 L503.01,374.69 L504.51,374.82 L506.00,374.94 L507.49,375.07 L508.99,375.19 L510.48,375.32 L511.97,375.44 L513.47,375.56 L514.96,375.69 L516.45,375.81 L517.95,375.93 L519.44,376.05 L520.93,376.17 L522.43,376.29 L523.92,376.41 L525.41,376.53 L526.91,376.65 L528.40,376.77 L529.89,376.88 L531.39,377.00 L532.88,377.12 L534.38,377.23 L535.87,377.35 L537.36,377.46 L538.86,377.58 L540.35,377.69 L541.85,377.81 L543.34,377.92 L544.83,378.03 L546.33,378.15 L547.82,378.26 L549.32,378.37 L550.81,378.48 L552.30,378.59 L553.80,378.70 L555.29,378.81 L556.79,378.92 L558.28,379.03 L559.78,379.14 L561.27,379.25 L562.77,379.36 L564.26,379.46 L565.75,379.57 L567.25,379.68 L568.74,379.78 L570.24,379.89 L571.73,379.99 L573.23,380.10 L574.72,380.20 L576.22,380.31 L577.71,380.41 L579.21,380.51 L580.70,380.62 L582.20,380.72 L583.69,380.82 L585.19,380.92 L586.68,381.02 L588.18,381.12 L589.67,381.22 L591.17,381.33 L592.66,381.42 L594.16,381.52 L595.65,381.62 L597.15,381.72 L598.64,381.82 L600.14,381.92 L601.63,382.02 L603.13,382.11 L604.62,382.21 L606.12,382.31 L607.61,382.40 L609.11,382.50 L610.60,382.59 L612.10,382.69 L613.59,382.78 L615.09,382.88 L616.59,382.97 L618.08,383.07 L619.58,383.16 L621.07,383.25 L622.57,383.35 L624.06,383.44 L625.56,383.53 L627.05,383.62 L628.55,383.72 L630.04,383.81 L631.54,383.90 L633.04,383.99 L634.53,384.08 L636.03,384.17 L637.52,384.26 L639.02,384.35 L640.51,384.44 L642.01,384.53 L643.51,384.62 L645.00,384.71 L646.50,384.79 L647.99,384.88 L649.49,384.97 L650.99,385.06 L652.48,385.14 L653.98,385.23 L655.47,385.32 L656.97,385.40 L658.46,385.49 L659.96,385.58 L661.46,385.66 L662.95,385.75 L664.45,385.83 L665.94,385.92 L667.44,386.00 L668.94,386.09 L670.43,386.17 L671.93,386.25 L673.42,386.34 L674.92,386.42 L676.42,386.51 L677.91,386.59 L679.41,386.67 L680.90,386.75 L682.40,386.84 L683.90,386.92 L685.39,387.00 L686.89,387.08 L688.39,387.16 L689.88,387.25 L691.38,387.33 L692.87,387.41 L694.37,387.49 L695.87,387.57 L697.36,387.65 L698.86,387.73 L700.35,387.81 L701.85,387.89 L703.35,387.97 L704.84,388.05 L706.34,388.13 L707.84,388.21 L709.33,388.29 L710.83,388.37 L712.32,388.44 L713.82,388.52 L715.32,388.60 L716.81,388.68 L718.31,388.76 L719.81,388.84 L721.30,388.91 L722.80,388.99 L724.29,389.07" fill="none" stroke="#00cdd2" stroke-width="2.2" stroke-linecap="round" stroke-linejoin="round" stroke-dasharray="0.7 4.97" stroke-dashoffset="1.0"/>
</g>
<g shape-rendering="auto">
<path d="M84.0,462.0 V13.0 H724.5 V462.0" fill="none" stroke="#262626" stroke-width="1.0" stroke-linejoin="miter"/>
<path d="M83.5,461.5 H725.0" fill="none" stroke="#484848" stroke-width="1.0"/>
<path d="M148.1,461.5 v-6.5 M148.1,13.0 v6.5 M212.1,461.5 v-13 M212.1,13.0 v13 M276.1,461.5 v-6.5 M276.1,13.0 v6.5 M340.2,461.5 v-13 M340.2,13.0 v13 M404.2,461.5 v-6.5 M404.2,13.0 v6.5 M468.3,461.5 v-13 M468.3,13.0 v13 M532.4,461.5 v-6.5 M532.4,13.0 v6.5 M596.4,461.5 v-13 M596.4,13.0 v13 M660.5,461.5 v-6.5 M660.5,13.0 v6.5 M84.0,424.1 h6.5 M724.5,424.1 h-6.5 M84.0,386.8 h13 M724.5,386.8 h-13 M84.0,349.4 h6.5 M724.5,349.4 h-6.5 M84.0,312.0 h13 M724.5,312.0 h-13 M84.0,274.6 h6.5 M724.5,274.6 h-6.5 M84.0,237.2 h13 M724.5,237.2 h-13 M84.0,199.9 h6.5 M724.5,199.9 h-6.5 M84.0,162.5 h13 M724.5,162.5 h-13 M84.0,125.1 h6.5 M724.5,125.1 h-6.5 M84.0,87.8 h13 M724.5,87.8 h-13 M84.0,50.4 h6.5 M724.5,50.4 h-6.5" fill="none" stroke="#404040" stroke-width="0.9"/>
</g>
<g>
<text transform="translate(72.0,468.1) scale(0.94,1)" text-anchor="end" font-size="24.8">0</text>
<text transform="translate(76.8,393.4) scale(0.94,1)" text-anchor="end" font-size="24.8">50</text>
<path d="M50.30,318.60 V301.50 H47.55 C47.00,303.20 45.10,304.60 42.60,304.70 V307.50 H46.45 V318.60 Z" fill="#000"/>
<text transform="translate(80.4,318.6) scale(0.94,1)" text-anchor="end" font-size="24.8">00</text>
<path d="M50.30,243.85 V226.75 H47.55 C47.00,228.45 45.10,229.85 42.60,229.95 V232.75 H46.45 V243.85 Z" fill="#000"/>
<text transform="translate(80.4,243.8) scale(0.94,1)" text-anchor="end" font-size="24.8">50</text>
<text transform="translate(80.4,169.1) scale(0.94,1)" text-anchor="end" font-size="24.8">200</text>
<text transform="translate(80.4,94.3) scale(0.94,1)" text-anchor="end" font-size="24.8">250</text>
<text transform="translate(80.4,19.6) scale(0.94,1)" text-anchor="end" font-size="24.8">300</text>
<text transform="translate(86.1,490.2) scale(0.94,1)" text-anchor="middle" font-size="24.8">0</text>
<path d="M230.20,490.00 V472.90 H227.45 C226.90,474.60 225.00,476.00 222.50,476.10 V478.90 H226.35 V490.00 Z" fill="#000"/>
<text transform="translate(201.2,490.2) scale(0.94,1)" font-size="24.8">0.</text>
<text transform="translate(329.2,490.2) scale(0.94,1)" font-size="24.8">0.2</text>
<text transform="translate(457.4,490.2) scale(0.94,1)" font-size="24.8">0.3</text>
<text transform="translate(585.4,490.2) scale(0.94,1)" font-size="24.8">0.4</text>
<text transform="translate(713.5,490.2) scale(0.94,1)" font-size="24.8">0.5</text>
<text transform="translate(613.4,133.0) scale(1.04,1)" font-size="31.3">(b)</text>
<text transform="translate(21.3,265.4) rotate(-90)" font-size="25.5" word-spacing="1.2">L (MeV)</text>
<text x="351.6" y="521.2" font-size="28" style="font-weight:normal">ρ</text>
<text x="371.3" y="520.4" font-size="25" style="font-weight:normal;stroke:#000;stroke-width:0.3px">(</text>
<text x="379.5" y="520.6" font-size="24.5">fm</text>
<rect x="410.7" y="501.8" width="10.4" height="2.2" fill="#000"/>
<text x="422.3" y="508.5" font-size="21.7" style="font-weight:normal;stroke:#000;stroke-width:0.55px">3</text>
<text x="435.2" y="519.8" font-size="25" style="font-weight:normal;stroke:#000;stroke-width:0.4px">)</text>
</g>
</svg>
</body></html>
